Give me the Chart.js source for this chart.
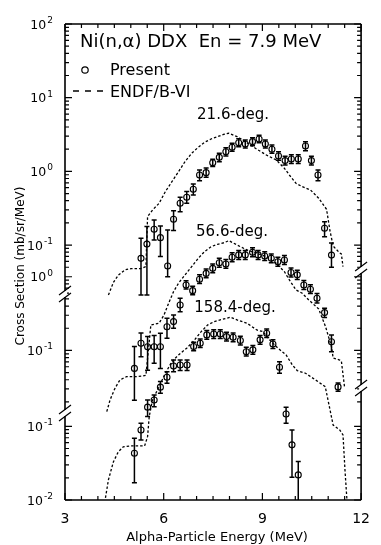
<!DOCTYPE html>
<html>
<head>
<meta charset="utf-8">
<style>
  html, body { margin: 0; padding: 0; background: #fff; }
</style>
<script src="https://cdn.jsdelivr.net/npm/chart.js@4/dist/chart.umd.min.js"></script>
</head>
<body>
<canvas id="ddxChart" width="381" height="545"></canvas>
<script>
// measured points (Present), energies in MeV, cross sections in mb/sr/MeV
const e216 = [5.31, 5.49, 5.71, 5.90, 6.12, 6.30, 6.50, 6.70, 6.90, 7.09, 7.29, 7.49, 7.69, 7.89, 8.08, 8.28, 8.48, 8.70, 8.90, 9.09, 9.29, 9.49, 9.69, 9.88, 10.09, 10.31, 10.49, 10.69, 10.89, 11.10];
const v216 = [0.066, 0.103, 0.164, 0.126, 0.052, 0.224, 0.369, 0.446, 0.571, 0.893, 0.96, 1.31, 1.55, 1.85, 2.12, 2.45, 2.35, 2.53, 2.75, 2.35, 2.0, 1.62, 1.40, 1.47, 1.47, 2.21, 1.40, 0.893, 0.169, 0.073];
const lo216 = [0.021, 0.021, 0.117, 0.070, 0.037, 0.157, 0.284, 0.369, 0.479, 0.748, 0.83, 1.16, 1.35, 1.62, 1.87, 2.16, 2.07, 2.23, 2.44, 2.07, 1.76, 1.42, 1.22, 1.28, 1.28, 1.91, 1.22, 0.748, 0.130, 0.050];
const hi216 = [0.124, 0.178, 0.219, 0.182, 0.160, 0.293, 0.446, 0.531, 0.675, 1.04, 1.11, 1.46, 1.76, 2.10, 2.40, 2.77, 2.66, 2.86, 3.10, 2.66, 2.28, 1.85, 1.60, 1.68, 1.68, 2.53, 1.60, 1.04, 0.207, 0.107];

const e566 = [5.11, 5.31, 5.51, 5.71, 5.90, 6.10, 6.30, 6.50, 6.68, 6.88, 7.09, 7.29, 7.49, 7.69, 7.89, 8.08, 8.28, 8.48, 8.70, 8.87, 9.07, 9.27, 9.47, 9.67, 9.87, 10.06, 10.26, 10.46, 10.66, 10.89, 11.10, 11.30];
const v566 = [0.057, 0.125, 0.112, 0.112, 0.112, 0.21, 0.246, 0.414, 0.774, 0.647, 0.925, 1.11, 1.30, 1.55, 1.49, 1.84, 1.98, 1.98, 2.15, 1.98, 1.91, 1.78, 1.60, 1.69, 1.14, 1.06, 0.774, 0.676, 0.51, 0.326, 0.131, 0.032];
const lo566 = [0.021, 0.082, 0.054, 0.067, 0.057, 0.146, 0.2, 0.336, 0.68, 0.57, 0.81, 0.97, 1.13, 1.35, 1.30, 1.60, 1.72, 1.72, 1.87, 1.72, 1.66, 1.55, 1.39, 1.47, 0.99, 0.92, 0.67, 0.59, 0.44, 0.28, 0.096, 0.028];
const hi566 = [0.113, 0.173, 0.154, 0.16, 0.171, 0.274, 0.303, 0.51, 0.88, 0.74, 1.06, 1.27, 1.49, 1.78, 1.71, 2.11, 2.27, 2.27, 2.47, 2.27, 2.19, 2.04, 1.84, 1.94, 1.31, 1.22, 0.89, 0.78, 0.59, 0.375, 0.162, 0.036];

const e1584 = [5.11, 5.31, 5.51, 5.71, 5.90, 6.10, 6.30, 6.50, 6.71, 6.91, 7.11, 7.31, 7.52, 7.72, 7.91, 8.11, 8.33, 8.51, 8.71, 8.93, 9.13, 9.32, 9.52, 9.72, 9.90, 10.09];
const v1584 = [0.0432, 0.0893, 0.182, 0.228, 0.340, 0.464, 0.66, 0.681, 0.681, 1.21, 1.34, 1.74, 1.79, 1.79, 1.65, 1.62, 1.46, 1.03, 1.09, 1.49, 1.83, 1.31, 0.634, 0.147, 0.056, 0.0219];
const lo1584 = [0.0172, 0.0653, 0.136, 0.185, 0.281, 0.385, 0.552, 0.57, 0.57, 1.06, 1.17, 1.52, 1.56, 1.56, 1.44, 1.41, 1.27, 0.90, 0.95, 1.30, 1.60, 1.14, 0.525, 0.110, 0.0204, 0.0098];
const hi1584 = [0.069, 0.110, 0.228, 0.267, 0.405, 0.552, 0.796, 0.796, 0.796, 1.38, 1.53, 1.99, 2.05, 2.05, 1.89, 1.85, 1.67, 1.18, 1.25, 1.71, 2.09, 1.50, 0.755, 0.182, 0.0893, 0.0332];

// ENDF/B-VI evaluation
const endfE216 = [4.32, 4.47, 4.62, 4.82, 5.01, 5.31, 5.46, 5.51, 5.66, 5.86, 6.05, 6.25, 6.45, 6.65, 6.85, 7.05, 7.24, 7.44, 7.64, 7.84, 7.98, 8.23, 8.53, 8.83, 9.12, 9.42, 9.67, 9.82, 10.02, 10.21, 10.46, 10.71, 10.95, 11.05, 11.15, 11.35, 11.40, 11.45];
const endfV216 = [0.021, 0.031, 0.039, 0.046, 0.048, 0.048, 0.051, 0.243, 0.299, 0.369, 0.531, 0.725, 0.99, 1.36, 1.76, 2.12, 2.48, 2.75, 2.96, 3.19, 3.29, 2.96, 2.45, 2.0, 1.67, 1.43, 1.10, 0.893, 0.690, 0.62, 0.56, 0.432, 0.306, 0.160, 0.097, 0.078, 0.076, 0.051];

const endfE566 = [4.27, 4.37, 4.52, 4.67, 4.87, 5.16, 5.36, 5.46, 5.61, 5.86, 6.01, 6.15, 6.30, 6.45, 6.65, 6.85, 7.05, 7.24, 7.44, 7.64, 7.84, 7.98, 8.23, 8.53, 8.83, 9.12, 9.42, 9.67, 9.82, 10.02, 10.21, 10.41, 10.71, 10.92, 11.10, 11.15, 11.35, 11.40, 11.50];
const endfV566 = [0.0148, 0.0213, 0.0307, 0.0398, 0.044, 0.044, 0.045, 0.046, 0.222, 0.234, 0.303, 0.437, 0.628, 0.817, 1.06, 1.37, 1.78, 2.19, 2.56, 2.76, 2.90, 3.09, 2.70, 2.31, 2.08, 1.87, 1.52, 1.17, 0.904, 0.662, 0.597, 0.484, 0.366, 0.21, 0.112, 0.079, 0.074, 0.072, 0.031];

const endfE1584 = [4.23, 4.32, 4.47, 4.62, 4.77, 5.00, 5.42, 5.51, 5.56, 5.66, 5.86, 6.05, 6.25, 6.45, 6.70, 6.94, 7.14, 7.34, 7.54, 7.79, 8.03, 8.23, 8.53, 8.83, 9.02, 9.22, 9.47, 9.72, 9.91, 10.06, 10.31, 10.61, 10.91, 11.00, 11.15, 11.35, 11.45, 11.51, 11.57];
const endfV1584 = [0.0107, 0.0188, 0.0329, 0.045, 0.0526, 0.0542, 0.0542, 0.0724, 0.136, 0.228, 0.346, 0.525, 0.755, 0.931, 1.15, 1.49, 1.93, 2.38, 2.64, 2.84, 3.02, 2.78, 2.51, 2.03, 1.93, 1.49, 1.15, 0.931, 0.681, 0.570, 0.525, 0.427, 0.346, 0.221, 0.104, 0.0893, 0.0764, 0.0256, 0.0100];

// stacked panels: each angle is shifted down on the shared log axis
const angleNames = ['21.6-deg.', '56.6-deg.', '158.4-deg.'];
const segFactor = [1, 0.03715, 0.003467];
const segExponents = [[2, 1, 0, -1], [0, -1], [-1, -2]];
const xTicks = [3, 6, 9, 12];

const FONT = '"DejaVu Sans", sans-serif';

function pts(xs, ys, f) { return xs.map((x, i) => ({ x: x, y: ys[i] * f })); }

function present(xs, ys, lo, hi, f) {
  return {
    data: pts(xs, ys, f),
    errLo: lo.map(v => v * f),
    errHi: hi.map(v => v * f),
    showLine: false,
    pointStyle: 'circle',
    pointRadius: 3,
    pointBorderWidth: 1.1,
    pointBorderColor: '#000',
    pointBackgroundColor: 'rgba(0,0,0,0)'
  };
}

function endf(xs, ys, f) {
  return {
    data: pts(xs, ys, f),
    showLine: true,
    borderColor: '#000',
    borderWidth: 1.3,
    borderDash: [2.5, 2],
    pointRadius: 0,
    tension: 0
  };
}

const decor = {
  id: 'decor',
  beforeDatasetsDraw(chart) {
    const ctx = chart.ctx, xs = chart.scales.x, ys = chart.scales.y, a = chart.chartArea;
    ctx.save();
    ctx.beginPath();
    ctx.rect(a.left, a.top, a.right - a.left, a.bottom - a.top);
    ctx.clip();
    ctx.strokeStyle = '#000';
    ctx.lineWidth = 1.5;
    chart.data.datasets.forEach(ds => {
      if (!ds.errLo) return;
      ds.data.forEach((p, i) => {
        const px = xs.getPixelForValue(p.x);
        const y1 = ys.getPixelForValue(ds.errHi[i]);
        const y2 = ys.getPixelForValue(ds.errLo[i]);
        ctx.beginPath();
        ctx.moveTo(px, y1); ctx.lineTo(px, y2);
        ctx.moveTo(px - 2.5, y1); ctx.lineTo(px + 2.5, y1);
        ctx.moveTo(px - 2.5, y2); ctx.lineTo(px + 2.5, y2);
        ctx.stroke();
      });
    });
    ctx.restore();
  },
  afterDraw(chart) {
    const ctx = chart.ctx, xs = chart.scales.x, ys = chart.scales.y, a = chart.chartArea;
    ctx.save();
    ctx.strokeStyle = '#000';
    ctx.fillStyle = '#000';

    // frame
    ctx.lineWidth = 1.6;
    ctx.beginPath();
    ctx.moveTo(a.left, a.top); ctx.lineTo(a.right, a.top);
    ctx.moveTo(a.left, a.bottom); ctx.lineTo(a.right, a.bottom);
    ctx.moveTo(a.left, a.top); ctx.lineTo(a.left, a.bottom);
    ctx.moveTo(a.right, a.top); ctx.lineTo(a.right, a.bottom);
    ctx.stroke();

    // x ticks (inward, top and bottom)
    ctx.lineWidth = 1.2;
    for (let v = 3; v <= 12.001; v += 0.5) {
      const px = xs.getPixelForValue(v);
      const len = (v % 3 === 0) ? 7 : 4;
      ctx.beginPath();
      ctx.moveTo(px, a.bottom); ctx.lineTo(px, a.bottom - len);
      ctx.moveTo(px, a.top); ctx.lineTo(px, a.top + len);
      ctx.stroke();
    }

    // y ticks per panel
    const ranges = [[a.top, 270], [275, 408], [414, a.bottom]];
    segFactor.forEach((f, s) => {
      for (let ex = -3; ex <= 2; ex++) {
        for (let m = 1; m <= 9; m++) {
          const py = ys.getPixelForValue(m * Math.pow(10, ex) * f);
          if (py < ranges[s][0] - 0.5 || py > ranges[s][1] + 0.5) continue;
          const len = m === 1 ? 7 : 4;
          ctx.beginPath();
          ctx.moveTo(a.left, py); ctx.lineTo(a.left + len, py);
          ctx.moveTo(a.right, py); ctx.lineTo(a.right - len, py);
          ctx.stroke();
        }
      }
      // labels 10^n
      segExponents[s].forEach(ex => {
        const py = ys.getPixelForValue(Math.pow(10, ex) * f);
        const sup = String(ex);
        ctx.font = '12.5px ' + FONT;
        const wBase = ctx.measureText('10').width;
        ctx.font = '9px ' + FONT;
        const wSup = ctx.measureText(sup).width;
        const right = 53;
        ctx.textAlign = 'left';
        ctx.textBaseline = 'alphabetic';
        ctx.font = '12.5px ' + FONT;
        ctx.fillText('10', right - wSup - 1 - wBase, py + 4.5);
        ctx.font = '9px ' + FONT;
        ctx.fillText(sup, right - wSup, py - 1);
      });
    });

    // axis breaks
    function brk(x, y) {
      ctx.fillStyle = '#fff';
      ctx.fillRect(x - 2, y - 3, 4, 6);
      ctx.fillStyle = '#000';
      ctx.lineWidth = 1.2;
      ctx.beginPath();
      ctx.moveTo(x - 6, y + 1); ctx.lineTo(x + 6, y - 8);
      ctx.moveTo(x - 6, y + 8); ctx.lineTo(x + 6, y - 1);
      ctx.stroke();
    }
    brk(a.left, 294);
    brk(a.left, 413);
    brk(a.right, 270);
    brk(a.right, 388);

    // texts
    ctx.fillStyle = '#000';
    ctx.textBaseline = 'alphabetic';
    ctx.textAlign = 'left';
    ctx.font = '18px ' + FONT;
    ctx.fillText('Ni(n,\u03b1) DDX  En = 7.9 MeV', 80, 47);
    ctx.font = '16px ' + FONT;
    ctx.fillText('Present', 110, 75);
    ctx.fillText('ENDF/B-VI', 110, 97);
    ctx.lineWidth = 1.2;
    ctx.beginPath();
    ctx.arc(85, 70, 3.2, 0, Math.PI * 2);
    ctx.stroke();
    ctx.lineWidth = 1.4;
    ctx.beginPath();
    [[73, 79], [85, 91], [97, 103]].forEach(d => { ctx.moveTo(d[0], 91); ctx.lineTo(d[1], 91); });
    ctx.stroke();

    ctx.textAlign = 'center';
    ctx.font = '15px ' + FONT;
    ctx.fillText(angleNames[0], 233, 119);
    ctx.fillText(angleNames[1], 232, 236);
    ctx.fillText(angleNames[2], 235, 312);

    ctx.font = '13px ' + FONT;
    ctx.fillText('Alpha-Particle Energy (MeV)', 217, 541);
    ctx.save();
    ctx.translate(24, 266);
    ctx.rotate(-Math.PI / 2);
    ctx.font = '12px ' + FONT;
    ctx.fillText('Cross Section (mb/sr/MeV)', 0, 0);
    ctx.restore();

    ctx.restore();
  }
};

new Chart(document.getElementById('ddxChart'), {
  type: 'scatter',
  data: {
    datasets: [
      present(e216, v216, lo216, hi216, segFactor[0]),
      present(e566, v566, lo566, hi566, segFactor[1]),
      present(e1584, v1584, lo1584, hi1584, segFactor[2]),
      endf(endfE216, endfV216, segFactor[0]),
      endf(endfE566, endfV566, segFactor[1]),
      endf(endfE1584, endfV1584, segFactor[2])
    ]
  },
  options: {
    responsive: false,
    devicePixelRatio: 1,
    animation: false,
    layout: { padding: { top: 24, right: 13, left: 0, bottom: 0 } },
    plugins: {
      legend: { display: false },
      tooltip: { enabled: false }
    },
    scales: {
      x: {
        type: 'linear',
        min: 3,
        max: 12,
        afterBuildTicks: scale => { scale.ticks = xTicks.map(v => ({ value: v })); },
        afterFit: scale => { scale.height = 45; },
        grid: { display: false, drawTicks: false },
        border: { display: false },
        ticks: {
          color: '#000',
          padding: 11,
          maxRotation: 0,
          font: { family: FONT, size: 14 }
        }
      },
      y: {
        type: 'logarithmic',
        min: 0.01 * segFactor[2],
        max: 100,
        afterFit: scale => { scale.width = 65; },
        grid: { display: false, drawTicks: false },
        border: { display: false },
        ticks: { display: false }
      }
    }
  },
  plugins: [decor]
});
</script>
</body>
</html>
